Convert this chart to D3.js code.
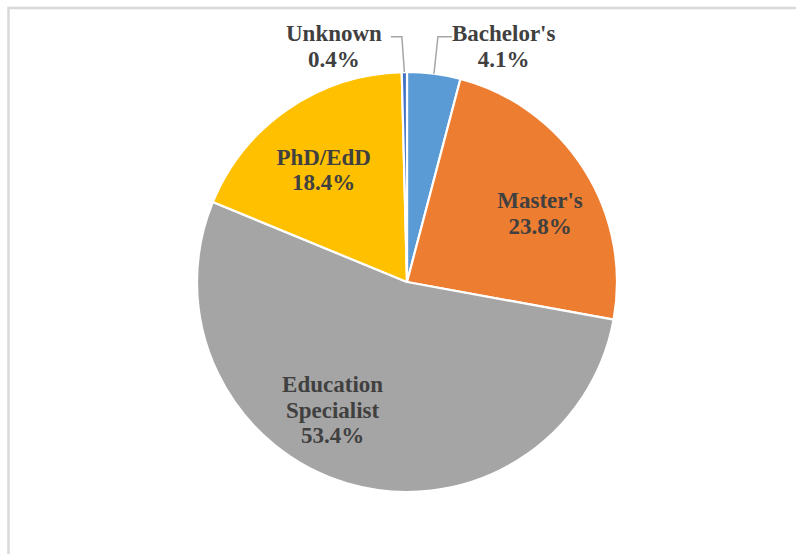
<!DOCTYPE html>
<html>
<head>
<meta charset="utf-8">
<script src="https://cdn.jsdelivr.net/npm/d3@7"></script>
<style>
    html, body { margin: 0; padding: 0; background: #ffffff; }
    #chart { width: 796px; height: 554px; }
</style>
</head>
<body>
<div id="chart"></div>
<script>
// chart data
var categories = ["Bachelor's", "Master's", "Education Specialist", "PhD/EdD", "Unknown"];
var shares = [4.1, 23.8, 53.4, 18.4, 0.4];
var labelLines = [["Bachelor's"], ["Master's"], ["Education", "Specialist"], ["PhD/EdD"], ["Unknown"]];
var sliceColors = ["#5B9BD5", "#ED7D31", "#A5A5A5", "#FFC000", "#4472C4"];

var app = app || {};

/**
 * Pie module
 */
app.PieModule = (function () {
    'use strict';

    var init = function (baseElement) {
        var config = configure(d3.select(baseElement));
        structure(config);
        slices(config);
        labels(config);
        return config;
    };

    var configure = function (base) {
        return {
            base: base,
            width: 796,
            height: 554,
            cx: 407,
            cy: 282,
            radius: 210,
            lineHeight: 25.5,
            fontSize: "23px",
            font: "'Liberation Serif', 'Times New Roman', serif",
            textColor: "#404040",
            // nudges for inside labels (relative to centroid at 0.7r)
            nudge: {
                "Master's": [9, 10.5],
                "Education Specialist": [-33, -13],
                "PhD/EdD": [0, 9]
            },
            // outside labels: elbow offset, text side
            outside: {
                "Bachelor's": { dx: 4, textGap: 14, anchor: "start" },
                "Unknown": { dx: -2.5, textGap: -11, anchor: "end" }
            }
        };
    };

    var structure = function (config) {
        var svg = config.base.append("svg")
            .attr("width", config.width)
            .attr("height", config.height);

        // chart area border (only top and left show)
        svg.append("rect")
            .attr("x", 8.5)
            .attr("y", 8)
            .attr("width", 820)
            .attr("height", 580)
            .style("fill", "none")
            .style("stroke", "#d9d9d9")
            .style("stroke-width", 2.5);

        config.svg = svg;
        config.group = svg.append("g")
            .attr("transform", "translate(" + config.cx + "," + config.cy + ")");
    };

    var slices = function (config) {
        var data = categories.map(function (c, i) {
            return { name: c, value: shares[i], lines: labelLines[i], color: sliceColors[i] };
        });

        var pie = d3.pie().sort(null).value(function (d) { return d.value; });
        config.arcs = pie(data);

        var arc = d3.arc().innerRadius(0).outerRadius(config.radius);
        config.arc = arc;

        config.group.selectAll("path.slice")
            .data(config.arcs)
            .enter()
            .append("path")
            .attr("class", "slice")
            .attr("d", arc)
            .attr("fill", function (d) { return d.data.color; })
            .attr("stroke", "#ffffff")
            .attr("stroke-width", 2.2)
            .attr("stroke-linejoin", "round");
    };

    var labels = function (config) {
        var g = config.group, r = config.radius;
        var inner = d3.arc().innerRadius(0).outerRadius(r * 1.4); // centroid at 0.7r
        var pct = function (d) { return d.data.value.toFixed(1) + "%"; };

        config.arcs.forEach(function (d) {
            var lines = d.data.lines.concat([pct(d)]);
            var out = config.outside[d.data.name];
            var x, yTop, anchor = "middle";

            if (out) {
                var mid = (d.startAngle + d.endAngle) / 2;
                var px = Math.sin(mid) * r, py = -Math.cos(mid) * r;
                var ex = px + out.dx, ey = -r - 35.3;
                var tx = ex + out.textGap;
                g.append("polyline")
                    .attr("points", [[px, py], [ex, ey], [tx, ey]].join(" "))
                    .attr("fill", "none")
                    .attr("stroke", "#a6a6a6")
                    .attr("stroke-width", 1.5);
                // block centred on the text box
                var w = measure(config, lines);
                x = out.anchor === "start" ? tx + w / 2 : tx - 9 - w / 2;
                yTop = ey + 4.6;
            } else {
                var c = inner.centroid(d);
                var n = config.nudge[d.data.name];
                x = c[0] + n[0];
                var centre = c[1] + n[1];
                yTop = centre - (lines.length - 1) * config.lineHeight / 2 + 7.5;
            }

            var text = g.append("text")
                .attr("text-anchor", anchor)
                .attr("fill", config.textColor)
                .style("font-family", config.font)
                .style("font-weight", "bold")
                .style("font-size", config.fontSize);

            lines.forEach(function (l, i) {
                text.append("tspan")
                    .attr("x", x)
                    .attr("y", yTop + i * config.lineHeight)
                    .text(l);
            });
        });
    };

    var measure = function (config, lines) {
        var t = config.svg.append("text")
            .style("font-family", config.font)
            .style("font-weight", "bold")
            .style("font-size", config.fontSize);
        var w = 0;
        lines.forEach(function (l) {
            t.text(l);
            w = Math.max(w, t.node().getComputedTextLength());
        });
        t.remove();
        return w;
    };

    return {
        init: init
    };

}());

app.PieModule.init("#chart");
</script>
</body>
</html>
